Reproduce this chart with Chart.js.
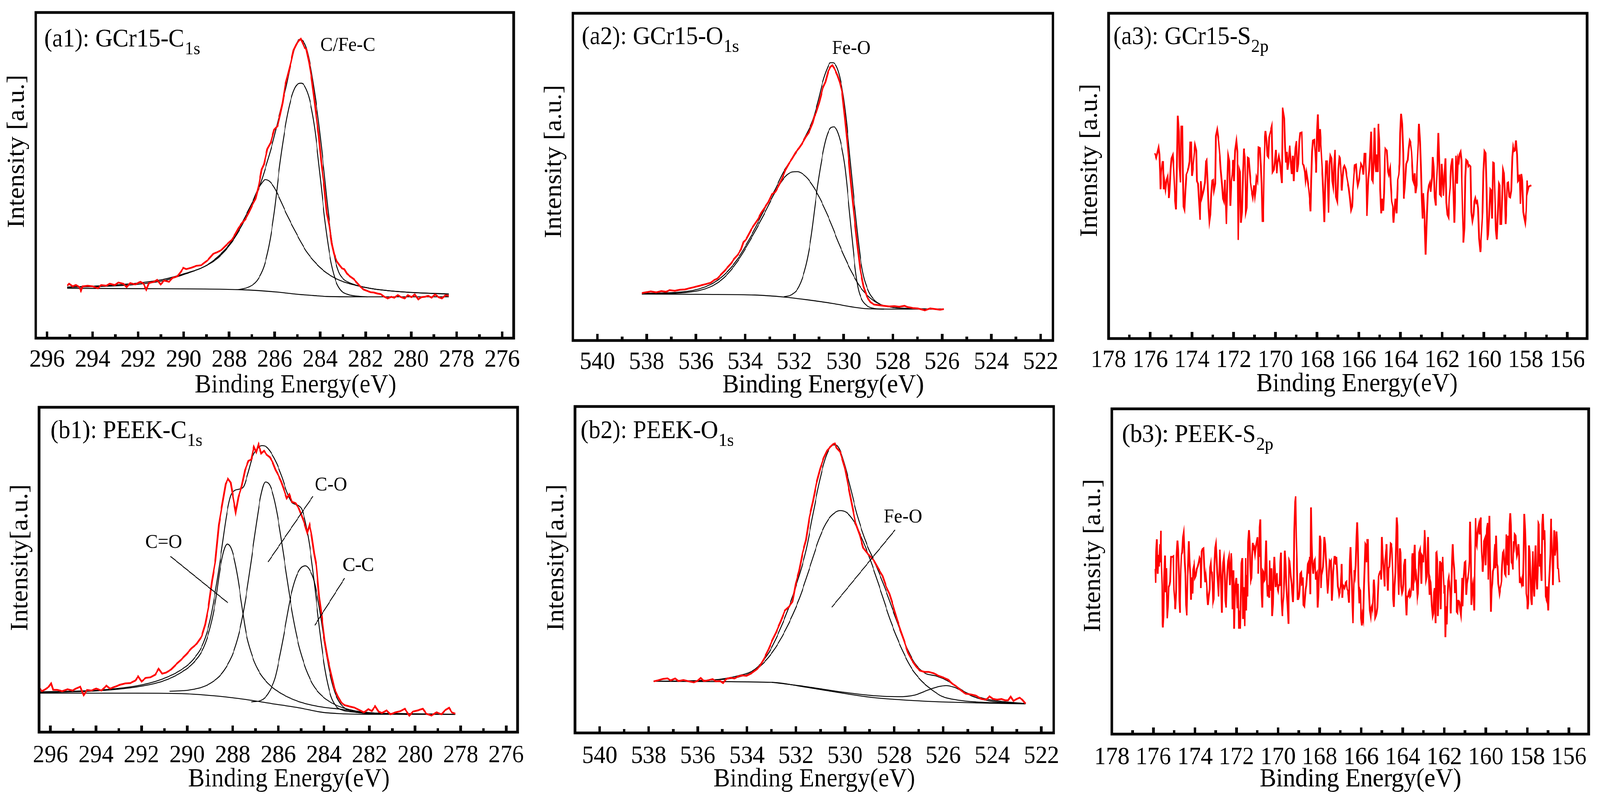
<!DOCTYPE html>
<html>
<head>
<meta charset="utf-8">
<script src="https://cdn.jsdelivr.net/npm/chart.js@4.4.0/dist/chart.umd.min.js"></script>
<style>
  html, body { margin: 0; padding: 0; background: #fff; overflow: hidden; }
  #stage { width: 4346px; height: 2059px; position: absolute; left: 0; top: 0; transform-origin: 0 0; background: #fff; }
  #stage canvas { position: absolute; }
</style>
</head>
<body>
<div id="stage">
<canvas id="a1" width="1450" height="1030" style="left:0;top:0"></canvas>
<canvas id="a2" width="1450" height="1030" style="left:1450px;top:0"></canvas>
<canvas id="a3" width="1446" height="1030" style="left:2900px;top:0"></canvas>
<canvas id="b1" width="1450" height="1029" style="left:0;top:1030px"></canvas>
<canvas id="b2" width="1450" height="1029" style="left:1450px;top:1030px"></canvas>
<canvas id="b3" width="1446" height="1029" style="left:2900px;top:1030px"></canvas>
</div>
<script>
// ---- axis ticks (binding energy, eV) ----
const C1S_TICKS = [276, 278, 280, 282, 284, 286, 288, 290, 292, 294, 296];
const C1S_MINOR = [277, 279, 281, 283, 285, 287, 289, 291, 293, 295];
const O1S_TICKS = [522, 524, 526, 528, 530, 532, 534, 536, 538, 540];
const O1S_MINOR = [523, 525, 527, 529, 531, 533, 535, 537, 539];
const S2P_TICKS = [156, 158, 160, 162, 164, 166, 168, 170, 172, 174, 176, 178];
const S2P_MINOR = [157, 159, 161, 163, 165, 167, 169, 171, 173, 175, 177];

// ---- (a1) GCr15 C1s : [energy, intensity a.u.] ----
const a1Measured = [[295.11,16.1],[295.03,16.7],[294.88,15.9],[294.73,16.3],[294.59,15.7],[294.51,14.5],[294.44,15.9],[294.21,16.1],[293.99,15.9],[293.77,15.3],[293.62,16.3],[293.39,16.1],[293.25,16.7],[293.02,16.3],[292.87,17.1],[292.65,16.7],[292.50,15.7],[292.35,16.9],[292.13,16.5],[291.90,17.3],[291.76,16.7],[291.64,14.9],[291.53,16.9],[291.31,17.3],[291.16,17.9],[291.01,16.5],[290.86,17.7],[290.64,17.3],[290.49,18.5],[290.27,19.0],[290.12,20.4],[290.01,21.6],[289.89,21.2],[289.67,21.6],[289.45,22.2],[289.22,22.4],[289.08,23.2],[288.93,24.0],[288.70,25.9],[288.55,26.3],[288.33,27.1],[288.11,28.7],[287.88,30.2],[287.74,31.8],[287.59,33.8],[287.44,35.3],[287.29,36.5],[287.14,38.5],[286.99,40.8],[286.84,42.8],[286.69,47.1],[286.57,51.8],[286.47,53.4],[286.32,58.1],[286.17,60.1],[286.02,64.0],[285.87,65.2],[285.77,68.3],[285.65,72.3],[285.53,77.8],[285.43,80.5],[285.28,84.8],[285.17,88.4],[285.05,90.2],[284.94,91.3],[284.85,91.9],[284.76,90.5],[284.68,89.2],[284.61,88.8],[284.49,84.8],[284.38,80.1],[284.28,74.6],[284.16,67.6],[284.06,62.1],[283.94,53.4],[283.83,47.1],[283.71,38.5],[283.60,34.6],[283.49,29.1],[283.39,25.9],[283.27,23.6],[283.15,22.4],[283.04,21.4],[282.94,21.2],[282.82,19.8],[282.67,18.9],[282.52,18.1],[282.37,16.9],[282.22,15.7],[282.08,14.9],[281.93,14.5],[281.78,14.1],[281.63,14.0],[281.48,13.7],[281.33,13.5],[281.18,12.7],[281.03,12.2],[280.88,12.7],[280.74,12.4],[280.59,13.2],[280.44,12.6],[280.29,12.2],[280.14,13.2],[279.99,12.6],[279.84,13.4],[279.69,11.9],[279.54,12.6],[279.40,12.7],[279.25,13.0],[279.10,12.4],[278.95,13.4],[278.80,12.6],[278.65,12.2],[278.50,13.2],[278.35,13.0]];
const a1Envelope = [[295.11,15.7],[293.54,16.1],[292.05,16.9],[290.86,18.1],[289.97,19.8],[289.08,22.0],[288.48,25.1],[287.88,29.8],[287.44,35.3],[286.99,41.6],[286.69,46.0],[286.39,52.6],[286.10,59.7],[285.80,68.3],[285.50,77.0],[285.28,84.4],[285.13,88.8],[284.98,91.3],[284.91,91.7],[284.76,91.3],[284.61,89.2],[284.46,84.8],[284.31,78.6],[284.09,67.6],[283.86,53.4],[283.64,38.5],[283.42,26.7],[283.19,20.4],[282.97,18.1],[282.67,16.9],[282.22,15.9],[281.63,15.1],[280.14,14.1],[278.35,13.5]];
const a1PeakBroad = [[295.11,15.6],[293.54,15.9],[292.05,16.5],[290.86,17.7],[289.97,19.6],[289.08,22.0],[288.48,24.7],[287.88,29.5],[287.44,34.6],[287.06,40.1],[286.77,45.2],[286.54,47.8],[286.42,48.7],[286.25,48.3],[286.02,46.3],[285.80,43.2],[285.50,38.5],[285.05,32.2],[284.61,26.7],[284.16,22.8],[283.71,20.0],[283.12,17.7],[282.37,16.1],[281.63,15.1],[280.14,14.1],[278.35,13.6]];
const a1PeakFeC = [[287.59,14.9],[287.14,15.7],[286.77,17.7],[286.47,22.0],[286.25,28.3],[286.02,38.5],[285.80,51.8],[285.58,62.8],[285.35,71.5],[285.13,76.6],[284.94,78.2],[284.83,78.3],[284.68,77.4],[284.46,73.1],[284.24,64.4],[284.01,50.3],[283.79,36.1],[283.57,25.1],[283.34,18.1],[283.12,14.9],[282.82,13.5],[282.37,12.9],[281.93,12.7]];
const a1Background = [[295.11,15.3],[292.05,15.2],[289.08,15.1],[287.59,14.9],[286.69,14.6],[285.80,14.1],[285.05,13.5],[284.31,13.1],[283.71,12.8],[282.37,12.7],[278.35,12.7]];

// ---- (a2) GCr15 O1s ----
const a2Measured = [[538.20,14.5],[538.04,14.7],[537.83,15.0],[537.62,14.7],[537.41,15.1],[537.21,14.9],[537.07,15.4],[536.86,15.2],[536.65,15.5],[536.45,15.6],[536.24,16.0],[536.03,16.4],[535.82,16.8],[535.62,17.2],[535.41,17.6],[535.27,18.4],[535.13,18.9],[535.00,20.0],[534.86,21.1],[534.72,22.3],[534.58,23.5],[534.44,25.0],[534.30,26.2],[534.17,27.8],[534.07,30.1],[533.96,30.9],[533.85,32.5],[533.75,34.0],[533.61,35.6],[533.47,37.2],[533.34,39.1],[533.20,40.7],[533.06,42.3],[532.92,44.6],[532.78,45.4],[532.64,47.3],[532.51,49.3],[532.37,52.0],[532.23,54.0],[532.09,55.6],[531.95,57.5],[531.82,58.7],[531.68,60.3],[531.54,62.2],[531.40,63.8],[531.26,66.5],[531.19,68.5],[531.12,69.6],[530.99,72.8],[530.85,77.1],[530.74,79.0],[530.63,82.2],[530.54,83.6],[530.46,84.1],[530.36,82.9],[530.25,81.0],[530.16,79.0],[530.06,75.9],[529.95,68.1],[529.85,60.3],[529.74,50.9],[529.63,42.3],[529.53,35.2],[529.44,29.0],[529.33,21.9],[529.19,16.4],[529.05,13.3],[528.91,11.7],[528.77,11.0],[528.57,10.8],[528.36,10.6],[528.15,10.4],[527.94,10.5],[527.74,10.3],[527.53,10.6],[527.39,10.2],[527.18,9.9],[526.98,9.8],[526.70,9.2],[526.49,9.8],[526.29,9.6],[526.08,9.4],[525.94,9.6]];
const a2Envelope = [[538.20,14.4],[536.38,15.0],[535.41,17.1],[534.86,20.0],[534.30,25.0],[533.75,32.1],[533.20,40.3],[532.78,46.2],[532.44,51.6],[532.09,55.6],[531.82,58.7],[531.54,62.6],[531.26,67.3],[531.05,72.8],[530.85,79.0],[530.68,82.9],[530.54,84.9],[530.43,84.9],[530.29,83.7],[530.16,80.6],[530.02,75.1],[529.88,66.5],[529.74,55.6],[529.60,44.6],[529.46,34.4],[529.33,25.8],[529.19,19.6],[528.98,14.9],[528.77,12.5],[528.50,11.0],[528.08,10.2],[527.39,9.8],[525.94,9.6]];
const a2PeakBroad = [[538.20,14.2],[536.38,14.7],[535.41,16.4],[534.86,19.2],[534.30,24.3],[533.75,31.3],[533.20,39.1],[532.78,45.4],[532.37,50.1],[532.09,51.5],[531.88,51.6],[531.68,51.0],[531.40,48.9],[530.99,43.8],[530.57,36.8],[530.16,29.0],[529.74,21.9],[529.33,16.4],[528.91,12.9],[528.50,11.0],[528.08,10.2],[527.39,9.8],[525.94,9.6]];
const a2PeakFeO = [[532.44,13.3],[532.09,14.1],[531.82,16.4],[531.54,22.7],[531.33,31.3],[531.12,43.8],[530.92,54.0],[530.71,61.8],[530.54,64.9],[530.40,65.3],[530.27,64.2],[530.09,59.5],[529.95,53.2],[529.81,43.0],[529.67,32.1],[529.53,21.9],[529.40,15.6],[529.26,12.5],[529.05,10.6],[528.77,9.8],[528.36,9.6]];
const a2Background = [[538.20,14.2],[535.69,14.1],[533.61,13.9],[532.44,13.3],[531.54,12.5],[530.43,11.3],[529.60,10.2],[529.05,9.7],[528.08,9.6],[525.94,9.6]];

// ---- (a3) GCr15 S2p ----
const a3Measured = [[175.78,57.0],[175.71,55.6],[175.66,57.0],[175.60,58.7],[175.56,56.6],[175.53,51.2],[175.51,45.9],[175.47,51.2],[175.42,54.3],[175.38,54.3],[175.35,45.9],[175.32,48.4],[175.27,45.9],[175.22,48.8],[175.16,50.0],[175.13,45.9],[175.10,43.2],[175.07,45.5],[175.02,52.1],[174.98,55.4],[174.92,56.4],[174.88,52.9],[174.85,48.8],[174.81,43.0],[174.76,39.7],[174.72,52.9],[174.68,68.5],[174.63,63.6],[174.60,52.9],[174.55,48.0],[174.52,65.2],[174.46,65.2],[174.43,50.4],[174.40,40.6],[174.36,39.7],[174.32,45.1],[174.27,50.4],[174.22,51.2],[174.16,52.5],[174.11,54.5],[174.08,60.3],[174.04,60.3],[174.00,50.0],[173.96,52.1],[173.91,55.4],[173.85,59.5],[173.79,57.8],[173.76,48.4],[173.71,47.6],[173.67,43.0],[173.61,36.5],[173.57,48.4],[173.52,43.4],[173.47,44.7],[173.43,45.9],[173.38,48.0],[173.33,54.5],[173.29,54.9],[173.24,47.6],[173.20,40.2],[173.16,36.1],[173.12,38.1],[173.08,44.3],[173.03,48.6],[172.98,48.8],[172.94,45.5],[172.88,47.6],[172.85,62.3],[172.79,64.2],[172.72,60.7],[172.66,56.2],[172.62,52.1],[172.56,47.6],[172.51,43.0],[172.47,42.2],[172.42,48.8],[172.39,43.0],[172.35,35.2],[172.30,48.0],[172.26,56.2],[172.21,54.5],[172.16,40.8],[172.12,47.6],[172.07,50.4],[172.02,54.9],[171.98,48.4],[171.93,57.8],[171.87,60.7],[171.82,57.0],[171.78,30.3],[171.72,51.9],[171.69,51.2],[171.65,35.6],[171.60,38.9],[171.55,51.2],[171.51,58.4],[171.46,55.8],[171.41,38.9],[171.37,40.2],[171.32,55.6],[171.28,55.4],[171.23,51.2],[171.19,48.0],[171.14,45.5],[171.08,43.4],[171.02,47.1],[170.98,43.9],[170.95,45.5],[170.91,49.6],[170.85,48.4],[170.80,58.8],[170.74,58.6],[170.70,53.7],[170.66,47.6],[170.62,36.1],[170.58,36.1],[170.54,52.9],[170.50,61.5],[170.47,63.8],[170.42,60.7],[170.38,56.2],[170.34,55.8],[170.30,61.9],[170.24,63.4],[170.17,65.2],[170.13,51.2],[170.07,51.9],[170.03,54.1],[169.98,58.0],[169.93,50.8],[169.89,54.1],[169.83,56.0],[169.78,54.1],[169.74,51.2],[169.69,47.8],[169.65,71.0],[169.57,67.7],[169.53,58.8],[169.49,54.1],[169.45,57.4],[169.42,51.9],[169.37,54.5],[169.31,59.3],[169.26,54.7],[169.21,50.6],[169.16,56.2],[169.12,48.4],[169.08,54.5],[169.04,58.6],[168.99,60.7],[168.95,51.2],[168.90,53.7],[168.85,60.7],[168.81,63.2],[168.73,63.4],[168.69,53.7],[168.64,53.3],[168.58,51.2],[168.55,48.8],[168.51,51.0],[168.46,48.8],[168.39,45.5],[168.34,41.8],[168.31,39.1],[168.28,48.4],[168.24,57.4],[168.20,60.9],[168.14,61.1],[168.09,57.4],[168.04,51.0],[168.00,63.2],[167.96,68.9],[167.91,57.4],[167.86,64.4],[167.82,59.9],[167.77,54.1],[167.73,49.6],[167.70,44.9],[167.65,35.8],[167.61,47.1],[167.57,54.5],[167.53,54.5],[167.50,49.6],[167.45,38.7],[167.40,53.3],[167.36,56.2],[167.31,55.4],[167.27,48.4],[167.23,46.7],[167.19,52.9],[167.14,58.0],[167.09,43.6],[167.03,42.2],[166.98,52.1],[166.93,55.8],[166.89,55.4],[166.84,49.6],[166.81,45.5],[166.77,49.6],[166.73,52.5],[166.69,53.1],[166.63,52.1],[166.57,49.6],[166.48,46.3],[166.42,43.0],[166.37,39.5],[166.32,40.6],[166.28,45.5],[166.23,50.4],[166.19,53.3],[166.13,53.5],[166.08,48.8],[166.05,47.1],[165.99,48.8],[165.93,52.1],[165.89,53.7],[165.82,52.7],[165.78,50.4],[165.73,56.8],[165.68,56.8],[165.64,49.6],[165.61,37.7],[165.54,49.0],[165.50,51.7],[165.45,57.8],[165.41,63.6],[165.37,48.8],[165.32,48.2],[165.28,54.5],[165.24,64.8],[165.20,53.7],[165.17,51.2],[165.14,56.6],[165.09,51.2],[165.06,66.0],[165.01,61.1],[164.97,46.3],[164.92,38.5],[164.87,43.0],[164.83,39.3],[164.79,44.7],[164.75,55.4],[164.73,58.4],[164.65,57.8],[164.59,51.2],[164.56,50.4],[164.50,52.3],[164.47,47.6],[164.42,42.2],[164.37,40.6],[164.33,35.6],[164.28,40.2],[164.24,43.0],[164.19,38.5],[164.13,48.8],[164.08,50.4],[164.04,53.7],[164.01,63.2],[163.97,69.1],[163.92,66.0],[163.87,57.0],[163.84,43.0],[163.79,46.3],[163.75,50.4],[163.72,53.7],[163.65,54.9],[163.61,58.2],[163.56,60.9],[163.52,60.3],[163.47,57.4],[163.43,52.9],[163.40,48.8],[163.36,48.0],[163.32,50.8],[163.28,44.7],[163.23,47.1],[163.20,52.9],[163.15,59.9],[163.11,66.0],[163.06,60.7],[163.02,52.9],[162.98,43.0],[162.94,36.9],[162.90,44.7],[162.85,38.9],[162.79,25.8],[162.73,38.1],[162.69,44.7],[162.64,47.1],[162.59,48.0],[162.55,45.1],[162.48,49.6],[162.45,55.8],[162.41,52.9],[162.36,43.4],[162.31,40.9],[162.27,47.9],[162.22,54.5],[162.18,63.2],[162.14,54.9],[162.11,44.3],[162.06,43.9],[162.03,53.7],[161.98,48.8],[161.94,43.9],[161.89,49.6],[161.84,55.4],[161.80,41.8],[161.75,38.1],[161.70,37.3],[161.66,43.4],[161.62,46.3],[161.57,52.9],[161.51,55.4],[161.46,45.1],[161.42,35.6],[161.38,44.7],[161.34,56.2],[161.28,47.6],[161.24,55.4],[161.20,54.5],[161.17,56.6],[161.12,57.4],[161.08,54.9],[161.02,38.1],[160.98,29.5],[160.93,34.0],[160.89,49.6],[160.85,54.9],[160.79,54.5],[160.75,52.9],[160.69,53.3],[160.64,52.9],[160.60,38.9],[160.55,36.2],[160.50,38.1],[160.46,42.2],[160.41,43.4],[160.36,41.8],[160.32,42.2],[160.28,40.2],[160.23,30.7],[160.17,26.6],[160.11,33.2],[160.06,38.9],[160.02,51.2],[159.97,57.6],[159.92,57.0],[159.88,47.1],[159.83,30.3],[159.79,31.9],[159.74,38.1],[159.69,45.9],[159.65,45.5],[159.61,36.9],[159.56,54.1],[159.51,53.9],[159.47,43.4],[159.42,33.2],[159.38,30.5],[159.33,38.5],[159.28,47.6],[159.25,47.1],[159.22,35.2],[159.16,35.2],[159.12,43.0],[159.08,51.9],[159.04,50.8],[159.00,45.5],[158.96,35.2],[158.92,40.2],[158.88,47.8],[158.83,48.0],[158.78,43.6],[158.74,43.4],[158.69,45.5],[158.64,55.8],[158.60,59.0],[158.55,57.6],[158.51,57.8],[158.46,60.9],[158.41,56.6],[158.37,48.4],[158.33,48.8],[158.29,50.4],[158.25,41.4],[158.20,50.6],[158.16,48.6],[158.11,38.9],[158.07,37.3],[158.02,35.6],[157.97,39.3],[157.93,48.6],[157.90,45.3],[157.85,46.7],[157.80,46.9],[157.73,47.1]];

// ---- (b1) PEEK C1s ----
const b1Measured = [[296.48,13.5],[296.37,12.6],[296.22,13.2],[296.07,14.0],[295.97,15.0],[295.88,13.0],[295.70,13.0],[295.48,12.6],[295.25,13.2],[295.03,12.8],[294.88,13.4],[294.69,14.0],[294.54,11.4],[294.39,13.0],[294.21,12.8],[293.99,13.4],[293.76,12.8],[293.54,14.3],[293.39,13.4],[293.16,14.0],[292.94,14.6],[292.72,15.0],[292.49,15.1],[292.27,15.9],[292.15,17.2],[292.00,15.6],[291.82,16.7],[291.60,16.9],[291.40,17.7],[291.25,19.5],[291.10,18.0],[290.93,18.3],[290.70,19.3],[290.48,20.9],[290.25,22.4],[290.03,24.0],[289.81,25.8],[289.58,27.2],[289.36,29.5],[289.21,33.1],[289.06,38.6],[288.91,46.5],[288.76,52.8],[288.61,63.8],[288.46,70.1],[288.31,76.4],[288.21,78.0],[288.09,76.8],[287.97,71.7],[287.87,67.7],[287.75,72.4],[287.61,75.6],[287.46,80.7],[287.31,83.5],[287.19,83.9],[287.07,87.8],[286.97,86.2],[286.87,88.6],[286.75,85.8],[286.63,86.6],[286.51,85.4],[286.37,84.6],[286.25,83.1],[286.12,80.7],[286.00,79.1],[285.88,77.2],[285.76,74.8],[285.63,72.0],[285.52,73.2],[285.40,70.9],[285.25,70.5],[285.10,68.9],[284.99,66.9],[284.87,64.6],[284.73,61.4],[284.63,63.8],[284.54,60.6],[284.43,55.1],[284.33,51.2],[284.21,41.7],[284.09,35.4],[283.97,28.3],[283.84,22.8],[283.69,18.1],[283.54,13.4],[283.39,11.0],[283.24,9.1],[283.09,8.3],[282.87,7.9],[282.64,7.5],[282.42,6.7],[282.24,6.1],[282.05,7.1],[281.90,6.5],[281.75,8.0],[281.60,6.3],[281.45,5.9],[281.25,6.7],[281.08,5.5],[280.85,6.1],[280.63,6.5],[280.45,7.2],[280.25,5.1],[280.10,6.3],[279.88,6.7],[279.66,7.2],[279.51,5.7],[279.28,5.1],[279.06,6.1],[278.84,5.5],[278.69,6.7],[278.51,7.5],[278.39,6.1],[278.24,5.7]];
const b1Envelope = [[296.48,12.4],[293.76,13.0],[291.97,14.6],[291.07,16.4],[290.33,18.9],[289.73,22.4],[289.28,27.6],[288.99,34.6],[288.69,46.5],[288.46,57.5],[288.27,66.9],[288.09,72.8],[287.91,74.4],[287.72,74.8],[287.52,75.6],[287.34,79.5],[287.12,85.0],[286.90,87.4],[286.72,88.2],[286.52,87.8],[286.30,85.8],[286.07,82.7],[285.85,78.7],[285.63,74.0],[285.43,70.9],[285.25,70.1],[285.10,69.7],[284.96,68.5],[284.81,64.6],[284.63,57.5],[284.43,46.5],[284.24,34.6],[284.06,24.4],[283.88,16.5],[283.69,11.0],[283.46,7.9],[283.16,6.7],[282.57,6.1],[281.82,5.7],[278.24,5.5]];
const b1PeakCdO = [[296.48,12.2],[293.76,12.8],[291.97,14.2],[291.07,15.7],[290.33,18.1],[289.73,21.3],[289.28,26.0],[288.99,32.3],[288.76,40.2],[288.57,49.6],[288.39,55.9],[288.24,57.9],[288.09,56.9],[287.94,53.5],[287.79,48.0],[287.61,39.4],[287.42,30.7],[287.19,24.4],[286.90,19.3],[286.45,15.0],[285.85,11.8],[285.10,9.4],[284.06,7.7],[283.31,7.1],[282.57,6.3],[281.82,5.9],[280.33,5.7],[278.24,5.5]];
const b1PeakCO = [[290.78,12.6],[289.88,13.0],[288.99,15.0],[288.39,18.9],[287.94,25.2],[287.64,33.1],[287.42,41.7],[287.19,52.8],[286.97,63.8],[286.78,72.4],[286.57,77.0],[286.37,76.0],[286.18,71.7],[285.97,63.8],[285.70,51.2],[285.43,38.6],[285.18,29.1],[284.88,21.3],[284.51,15.0],[284.06,11.0],[283.46,8.3],[282.72,6.7],[281.82,5.9],[280.33,5.5]];
const b1PeakCC = [[287.19,9.3],[286.75,9.8],[286.45,11.8],[286.15,16.5],[285.93,23.6],[285.70,32.3],[285.48,40.9],[285.25,47.2],[285.03,50.4],[284.81,51.2],[284.63,50.0],[284.43,46.5],[284.21,38.6],[283.99,28.3],[283.76,18.9],[283.54,12.6],[283.31,9.1],[283.02,7.1],[282.57,6.1],[281.82,5.7],[280.33,5.5]];
const b1Background = [[296.48,12.0],[292.27,12.0],[290.03,11.8],[288.54,11.0],[287.49,10.1],[286.30,8.8],[285.10,7.5],[284.06,6.1],[283.31,5.7],[281.82,5.5],[278.24,5.5]];

// ---- (b2) PEEK O1s ----
const b2Measured = [[537.80,15.8],[537.62,16.1],[537.44,16.5],[537.24,16.7],[537.10,16.1],[536.92,16.7],[536.79,15.9],[536.58,16.2],[536.37,15.8],[536.16,15.5],[536.02,15.9],[535.88,16.9],[535.75,15.9],[535.58,16.1],[535.40,16.5],[535.26,15.8],[535.08,15.9],[534.97,15.3],[534.85,16.5],[534.67,16.9],[534.50,16.7],[534.36,17.3],[534.19,17.6],[534.01,17.5],[533.81,18.3],[533.60,19.5],[533.46,20.6],[533.28,23.0],[533.11,25.7],[532.98,28.1],[532.81,30.8],[532.63,34.0],[532.45,37.5],[532.28,38.7],[532.14,40.2],[532.01,45.7],[531.87,49.6],[531.73,55.1],[531.59,59.1],[531.45,66.1],[531.31,70.8],[531.17,76.3],[531.01,81.0],[530.87,84.2],[530.73,86.5],[530.59,87.7],[530.48,88.5],[530.41,88.7],[530.34,87.3],[530.20,86.1],[530.09,83.4],[530.00,81.0],[529.86,75.5],[529.72,70.0],[529.58,64.5],[529.40,60.6],[529.26,56.7],[529.10,55.1],[528.96,54.0],[528.82,52.8],[528.65,50.4],[528.47,48.1],[528.33,44.9],[528.19,42.6],[528.06,39.4],[527.88,34.7],[527.71,30.8],[527.57,27.7],[527.43,24.5],[527.27,22.2],[527.09,20.2],[526.95,19.1],[526.77,18.7],[526.60,18.7],[526.39,18.3],[526.19,17.5],[525.98,16.9],[525.80,16.3],[525.63,15.1],[525.42,14.0],[525.24,12.8],[525.08,12.0],[524.87,11.8],[524.66,11.4],[524.45,10.4],[524.25,10.2],[524.11,11.2],[523.97,10.4],[523.80,10.2],[523.62,10.4],[523.48,10.0],[523.35,10.0],[523.25,11.1],[523.14,9.8],[523.00,10.4],[522.89,10.8],[522.78,10.2],[522.65,9.0]];
const b2Envelope = [[537.80,15.8],[535.75,16.1],[535.05,16.5],[534.36,17.5],[533.67,19.5],[533.11,24.5],[532.70,30.8],[532.28,38.7],[531.87,48.1],[531.59,55.9],[531.31,66.9],[531.04,77.1],[530.83,83.4],[530.65,86.9],[530.48,88.2],[530.37,88.2],[530.20,86.5],[530.00,81.8],[529.79,75.5],[529.51,66.9],[529.10,57.5],[528.82,52.8],[528.40,44.9],[527.99,36.3],[527.57,27.7],[527.16,21.4],[526.74,18.3],[526.32,17.5],[525.91,16.3],[525.49,14.4],[525.08,12.4],[524.66,11.2],[523.97,10.0],[522.65,9.0]];
const b2PeakFeO = [[537.80,15.8],[535.75,16.1],[534.36,17.1],[533.67,19.1],[532.98,24.5],[532.42,31.6],[531.87,41.0],[531.45,50.4],[531.04,59.8],[530.69,65.3],[530.41,67.5],[530.20,68.1],[529.93,67.5],[529.65,64.9],[529.37,60.6],[528.96,52.8],[528.54,43.4],[528.13,34.0],[527.71,26.1],[527.29,19.8],[526.88,15.9],[526.46,13.2],[526.05,11.2],[525.35,10.0],[524.66,9.5],[522.65,9.0]];
const b2PeakLow = [[532.98,15.5],[531.59,14.2],[530.20,12.6],[528.82,11.4],[527.85,11.1],[527.16,11.6],[526.60,13.2],[526.19,14.2],[525.88,14.5],[525.56,14.0],[525.22,12.8],[524.80,11.2],[524.25,10.0],[523.55,9.3],[522.65,9.0]];
const b2Background = [[537.80,15.8],[532.98,15.5],[531.59,14.0],[530.20,12.3],[528.82,10.8],[527.43,10.0],[526.05,9.5],[524.66,9.2],[522.65,8.9]];

// ---- (b3) PEEK S2p ----
const b3Measured = [[175.91,50.8],[175.89,46.5],[175.86,56.2],[175.83,59.9],[175.79,49.3],[175.76,55.1],[175.73,51.5],[175.71,54.3],[175.68,58.4],[175.66,52.8],[175.64,62.5],[175.61,51.9],[175.58,45.8],[175.57,36.3],[175.54,32.8],[175.51,36.3],[175.48,48.2],[175.44,54.9],[175.41,43.6],[175.38,51.0],[175.35,41.0],[175.33,35.6],[175.29,39.3],[175.26,45.2],[175.22,45.8],[175.19,46.9],[175.15,54.5],[175.08,54.5],[175.04,54.7],[175.01,44.5],[174.97,41.0],[174.94,38.4],[174.90,43.9],[174.88,55.1],[174.84,59.5],[174.81,56.7],[174.77,48.9],[174.75,41.0],[174.72,37.3],[174.68,50.6],[174.65,55.1],[174.61,55.8],[174.57,60.6],[174.54,61.8],[174.49,52.8],[174.46,49.3],[174.43,39.7],[174.39,36.5],[174.35,48.4],[174.32,52.8],[174.29,59.3],[174.26,53.6],[174.22,48.9],[174.19,41.3],[174.16,48.2],[174.12,43.2],[174.09,50.6],[174.04,52.1],[174.00,48.0],[173.96,48.6],[173.91,50.8],[173.87,51.5],[173.82,52.8],[173.78,54.3],[173.74,53.8],[173.71,44.9],[173.67,56.2],[173.63,56.9],[173.59,57.1],[173.55,51.0],[173.51,46.7],[173.47,48.9],[173.44,46.7],[173.40,42.3],[173.37,39.7],[173.33,42.5],[173.29,44.5],[173.27,51.2],[173.24,52.3],[173.22,49.7],[173.19,49.7],[173.16,46.7],[173.13,40.4],[173.09,41.5],[173.06,51.5],[173.02,57.3],[172.99,58.4],[172.96,54.5],[172.93,49.7],[172.90,46.7],[172.86,42.3],[172.83,50.1],[172.80,56.7],[172.77,51.9],[172.73,44.1],[172.70,37.3],[172.67,48.9],[172.64,52.8],[172.61,54.1],[172.57,48.9],[172.54,41.0],[172.50,38.9],[172.46,46.7],[172.43,50.6],[172.40,53.2],[172.36,54.5],[172.32,45.8],[172.28,51.5],[172.25,55.6],[172.23,53.6],[172.20,38.4],[172.17,50.1],[172.14,50.1],[172.11,32.4],[172.08,41.9],[172.05,46.0],[172.01,48.0],[171.98,42.3],[171.96,38.7],[171.92,46.2],[171.89,32.4],[171.85,38.0],[171.82,32.4],[171.79,42.3],[171.76,52.5],[171.72,54.1],[171.69,35.4],[171.66,45.2],[171.63,40.2],[171.60,33.2],[171.56,54.1],[171.53,38.0],[171.50,48.9],[171.47,42.3],[171.44,59.0],[171.40,62.7],[171.37,59.3],[171.34,51.5],[171.31,47.1],[171.27,48.0],[171.24,54.9],[171.21,58.8],[171.18,57.1],[171.15,57.5],[171.11,55.4],[171.08,57.1],[171.05,58.4],[171.00,60.3],[170.98,60.3],[170.95,49.3],[170.93,57.1],[170.90,54.5],[170.88,63.6],[170.85,66.0],[170.82,51.0],[170.79,43.2],[170.76,38.9],[170.73,50.1],[170.70,49.7],[170.66,47.1],[170.63,47.5],[170.60,53.0],[170.57,59.5],[170.53,46.7],[170.50,42.3],[170.47,45.8],[170.43,41.9],[170.40,53.4],[170.37,45.8],[170.33,44.1],[170.31,51.0],[170.28,36.3],[170.24,40.2],[170.21,49.7],[170.18,54.5],[170.15,50.1],[170.12,45.2],[170.08,47.5],[170.05,49.5],[170.02,44.9],[169.99,44.1],[169.96,45.8],[169.92,45.8],[169.89,52.8],[169.86,55.8],[169.83,41.0],[169.79,36.3],[169.76,40.2],[169.73,42.3],[169.70,46.7],[169.67,56.4],[169.63,51.9],[169.60,45.8],[169.57,42.3],[169.54,39.3],[169.50,33.9],[169.47,53.6],[169.44,53.2],[169.41,51.0],[169.38,48.4],[169.34,46.2],[169.31,43.2],[169.28,40.6],[169.25,46.7],[169.22,62.7],[169.18,71.4],[169.15,73.1],[169.12,60.6],[169.09,53.6],[169.05,41.5],[169.02,41.5],[168.99,42.3],[168.96,44.5],[168.93,49.3],[168.89,49.7],[168.86,46.0],[168.83,46.2],[168.80,48.2],[168.77,39.7],[168.73,39.3],[168.70,41.9],[168.67,44.5],[168.64,45.8],[168.60,49.3],[168.57,52.3],[168.54,52.8],[168.51,49.3],[168.48,54.5],[168.44,43.0],[168.41,69.7],[168.38,58.8],[168.35,52.8],[168.31,49.3],[168.28,51.9],[168.25,53.4],[168.22,53.8],[168.19,47.5],[168.15,49.3],[168.12,49.7],[168.09,38.9],[168.06,42.3],[168.02,51.0],[167.99,61.0],[167.96,59.7],[167.93,44.9],[167.90,48.9],[167.86,50.1],[167.83,51.5],[167.80,55.4],[167.77,60.6],[167.73,58.4],[167.70,54.1],[167.67,51.0],[167.64,46.7],[167.61,43.2],[167.57,46.2],[167.54,50.1],[167.51,53.2],[167.48,52.8],[167.45,53.2],[167.41,41.0],[167.38,44.5],[167.35,50.1],[167.32,51.9],[167.29,54.5],[167.25,54.5],[167.22,52.1],[167.19,54.5],[167.16,51.0],[167.12,45.4],[167.09,44.5],[167.06,42.8],[167.03,43.6],[166.99,45.4],[166.96,49.3],[166.93,52.3],[166.90,41.9],[166.87,45.8],[166.83,45.4],[166.80,44.9],[166.77,45.6],[166.74,46.7],[166.71,46.9],[166.67,44.5],[166.64,44.1],[166.61,42.8],[166.58,40.4],[166.54,53.2],[166.51,57.5],[166.48,51.0],[166.45,47.1],[166.42,39.3],[166.39,34.1],[166.35,45.8],[166.32,50.4],[166.29,48.9],[166.26,51.9],[166.22,60.6],[166.19,65.1],[166.16,58.8],[166.13,46.7],[166.09,40.2],[166.06,44.5],[166.03,44.1],[166.00,35.8],[165.96,33.4],[165.93,36.5],[165.90,35.4],[165.87,44.1],[165.83,52.3],[165.80,58.4],[165.77,58.0],[165.74,52.8],[165.71,59.7],[165.67,59.7],[165.64,47.1],[165.61,42.3],[165.58,38.0],[165.54,36.3],[165.51,38.9],[165.48,39.5],[165.45,38.4],[165.42,42.8],[165.38,47.5],[165.35,44.5],[165.32,35.8],[165.29,36.3],[165.26,37.1],[165.22,38.9],[165.19,44.1],[165.16,48.4],[165.13,49.3],[165.09,49.9],[165.06,50.1],[165.03,47.5],[165.00,60.6],[164.97,55.4],[164.93,51.9],[164.90,48.9],[164.87,45.4],[164.84,53.6],[164.80,56.7],[164.77,58.4],[164.74,48.4],[164.71,44.1],[164.68,51.0],[164.64,51.5],[164.61,54.5],[164.58,58.6],[164.55,58.4],[164.52,57.1],[164.48,49.7],[164.45,41.5],[164.42,39.1],[164.39,45.4],[164.35,49.7],[164.32,58.0],[164.29,66.6],[164.26,64.0],[164.23,51.0],[164.19,42.8],[164.16,48.9],[164.13,57.1],[164.10,55.8],[164.07,45.4],[164.03,43.4],[164.00,44.1],[163.97,46.2],[163.94,51.9],[163.90,53.6],[163.87,53.6],[163.84,41.0],[163.81,36.5],[163.78,42.3],[163.74,42.3],[163.71,43.6],[163.68,44.1],[163.65,42.3],[163.61,42.8],[163.58,44.9],[163.55,52.8],[163.52,55.6],[163.49,44.1],[163.45,54.5],[163.42,58.2],[163.39,48.4],[163.36,49.3],[163.33,47.1],[163.29,41.9],[163.26,43.2],[163.23,49.3],[163.20,55.8],[163.16,56.7],[163.13,51.9],[163.10,46.2],[163.07,54.9],[163.04,54.5],[163.00,52.8],[162.97,58.0],[162.94,62.7],[162.91,58.4],[162.87,47.5],[162.84,48.4],[162.81,52.8],[162.78,60.6],[162.75,49.7],[162.71,42.8],[162.68,47.5],[162.65,46.7],[162.62,43.2],[162.59,39.3],[162.55,36.3],[162.52,37.1],[162.49,43.6],[162.46,44.9],[162.42,34.1],[162.39,55.8],[162.36,56.0],[162.33,53.6],[162.30,36.3],[162.26,44.5],[162.23,48.9],[162.20,53.2],[162.17,38.4],[162.13,52.8],[162.10,50.1],[162.07,54.5],[162.04,48.9],[162.00,43.2],[161.97,45.8],[161.94,29.8],[161.91,39.3],[161.88,33.7],[161.84,42.3],[161.81,47.1],[161.78,48.2],[161.75,46.7],[161.72,43.6],[161.68,37.1],[161.65,44.9],[161.62,53.2],[161.59,58.4],[161.56,53.6],[161.52,50.6],[161.49,43.6],[161.46,43.6],[161.43,47.5],[161.39,37.6],[161.36,37.3],[161.33,41.0],[161.30,41.0],[161.27,40.6],[161.23,38.0],[161.20,36.7],[161.17,41.0],[161.14,48.0],[161.11,39.3],[161.07,47.1],[161.04,49.7],[161.01,52.8],[160.98,53.0],[160.94,42.8],[160.91,46.2],[160.88,47.5],[160.85,48.4],[160.82,50.1],[160.78,54.1],[160.75,65.3],[160.72,57.5],[160.69,39.7],[160.65,44.9],[160.62,46.2],[160.59,43.2],[160.56,38.0],[160.53,50.1],[160.49,66.4],[160.46,58.8],[160.43,58.0],[160.40,61.4],[160.37,63.2],[160.33,64.5],[160.30,61.4],[160.27,64.5],[160.24,66.6],[160.20,56.2],[160.17,52.8],[160.14,49.9],[160.11,53.6],[160.08,59.3],[160.04,60.1],[160.01,51.9],[159.98,58.0],[159.95,63.2],[159.91,64.9],[159.88,47.5],[159.85,56.2],[159.82,67.1],[159.79,53.2],[159.75,37.6],[159.72,44.5],[159.69,46.2],[159.66,50.1],[159.62,51.0],[159.59,55.8],[159.56,58.4],[159.53,51.0],[159.50,61.0],[159.46,52.3],[159.43,51.5],[159.40,46.2],[159.37,44.9],[159.34,43.2],[159.30,44.9],[159.27,45.8],[159.24,47.1],[159.21,51.9],[159.17,55.8],[159.14,56.2],[159.11,53.6],[159.08,49.3],[159.05,48.9],[159.01,61.4],[158.98,54.9],[158.95,51.9],[158.92,61.0],[158.89,48.9],[158.85,64.5],[158.82,67.9],[158.79,64.0],[158.76,52.8],[158.72,52.3],[158.69,50.6],[158.66,59.3],[158.63,58.0],[158.60,61.4],[158.56,61.0],[158.53,57.1],[158.50,54.9],[158.47,55.8],[158.43,58.4],[158.40,54.5],[158.37,46.7],[158.34,46.7],[158.31,47.5],[158.27,46.2],[158.24,47.5],[158.21,45.4],[158.18,54.5],[158.15,67.7],[158.11,62.7],[158.08,56.2],[158.05,43.2],[158.02,41.9],[157.98,38.4],[157.95,40.2],[157.92,58.0],[157.89,56.2],[157.86,50.1],[157.82,41.5],[157.79,39.7],[157.76,50.1],[157.73,56.2],[157.70,45.8],[157.66,42.3],[157.63,52.8],[157.60,58.0],[157.57,48.4],[157.53,44.5],[157.50,51.0],[157.47,64.9],[157.44,64.5],[157.41,51.5],[157.37,55.4],[157.34,51.0],[157.31,47.1],[157.28,64.5],[157.25,67.7],[157.21,59.7],[157.18,62.7],[157.15,55.4],[157.12,42.3],[157.08,41.5],[157.05,45.4],[157.02,41.5],[156.99,38.0],[156.96,45.8],[156.92,51.0],[156.89,55.4],[156.86,66.2],[156.83,61.9],[156.79,51.0],[156.76,45.8],[156.73,56.7],[156.70,62.7],[156.67,54.9],[156.63,57.5],[156.60,62.3],[156.57,58.8],[156.54,51.0],[156.50,50.8],[156.47,47.5],[156.44,46.7]];

// ---- per-panel layout and decoration ----
const SERIF = '"Liberation Serif", "Times New Roman", serif';
const panels = [
  {
    id: 'a1', pad: { left: 97, top: 32, right: 55, bottom: 0 }, axisHeight: 164, tickPad: 10,
    xMin: 275.5, xMax: 296.5, majors: C1S_TICKS, minors: C1S_MINOR,
    measured: a1Measured, fits: [a1Envelope, a1PeakBroad, a1PeakFeC, a1Background],
    label: '(a1): GCr15-C', sub: '1s', labelDx: 23, labelDy: 87,
    yTitle: 'Intensity [a.u.]', yTitleStart: 282, xTitleDx: 57, xTitleDy: 139,
    notes: [{ text: 'C/Fe-C', x: 282.78, y: 89.9 }]
  },
  {
    id: 'a2', pad: { left: 106, top: 34, right: 40, bottom: 0 }, axisHeight: 158, tickPad: 10,
    xMin: 521.5, xMax: 541, majors: O1S_TICKS, minors: O1S_MINOR,
    measured: a2Measured, fits: [a2Envelope, a2PeakBroad, a2PeakFeO, a2Background],
    label: '(a2): GCr15-O', sub: '1s', labelDx: 24, labelDy: 79,
    yTitle: 'Intensity [a.u.]', yTitleStart: 262, xTitleDx: 28, xTitleDy: 133,
    notes: [{ text: 'Fe-O', x: 529.69, y: 89.2 }]
  },
  {
    id: 'a3', pad: { left: 111, top: 34, right: 35, bottom: 0 }, axisHeight: 163, tickPad: 10,
    xMin: 155.05, xMax: 178, majors: S2P_TICKS, minors: S2P_MINOR,
    measured: a3Measured, fits: [],
    label: '(a3): GCr15-S', sub: '2p', labelDx: 13, labelDy: 79,
    yTitle: 'Intensity [a.u.]', yTitleStart: 260, xTitleDx: 25, xTitleDy: 135,
    notes: []
  },
  {
    id: 'b1', pad: { left: 106, top: 13, right: 44, bottom: 0 }, axisHeight: 184, tickPad: 14,
    xMin: 275.5, xMax: 296.5, majors: C1S_TICKS, minors: C1S_MINOR,
    measured: b1Measured, fits: [b1Envelope, b1PeakCdO, b1PeakCO, b1PeakCC, b1Background],
    label: '(b1): PEEK-C', sub: '1s', labelDx: 31, labelDy: 79,
    yTitle: 'Intensity[a.u.]', yTitleStart: 259, xTitleDx: 29, xTitleDy: 139,
    notes: [
      { text: 'C=O', x: 291.03, y: 58.4, line: [290.73, 54.1, 288.21, 39.8] },
      { text: 'C-O', x: 283.69, y: 76.0, line: [284.48, 72.6, 286.45, 52.4] },
      { text: 'C-C', x: 282.49, y: 51.2, line: [283.09, 47.4, 284.40, 32.9] }
    ]
  },
  {
    id: 'b2', pad: { left: 112, top: 11, right: 38, bottom: 0 }, axisHeight: 182, tickPad: 14,
    xMin: 521.5, xMax: 541, majors: O1S_TICKS, minors: O1S_MINOR,
    measured: b2Measured, fits: [b2Envelope, b2PeakFeO, b2PeakLow, b2Background],
    label: '(b2): PEEK-O', sub: '1s', labelDx: 15, labelDy: 81,
    yTitle: 'Intensity[a.u.]', yTitleStart: 261, xTitleDx: 0, xTitleDy: 137,
    notes: [{ text: 'Fe-O', x: 527.64, y: 66.1, line: [527.96, 62.2, 530.54, 38.5] }]
  },
  {
    id: 'b3', pad: { left: 120, top: 17, right: 31, bottom: 0 }, axisHeight: 179, tickPad: 14,
    xMin: 155.05, xMax: 178, majors: S2P_TICKS, minors: S2P_MINOR,
    measured: b3Measured, fits: [],
    label: '(b3): PEEK-S', sub: '2p', labelDx: 28, labelDy: 85,
    yTitle: 'Intensity [a.u.]', yTitleStart: 261, xTitleDx: 28, xTitleDy: 134,
    notes: []
  }
];

// stretch the 4346x2059 stage over the whole viewport we are given
const stage = document.getElementById('stage');
const scaleX = window.innerWidth / 4346;
const scaleY = window.innerHeight / 2059;
stage.style.transform = `scale(${scaleX}, ${scaleY})`;
const renderRatio = (window.devicePixelRatio || 1) * Math.max(scaleX, scaleY);

const decorById = new Map(panels.map((p) => [p.id, p]));

// frame, inner ticks, panel label, axis titles and peak notes
const xpsDecor = {
  id: 'xpsDecor',
  afterDraw(chart) {
    const p = decorById.get(chart.canvas.id);
    if (!p) return;
    const { ctx, chartArea: a } = chart;
    const xs = chart.scales.x;
    const ys = chart.scales.y;
    ctx.save();
    ctx.fillStyle = '#000';
    ctx.strokeStyle = '#000';

    p.notes.forEach((n) => {
      if (n.line) {
        ctx.lineWidth = 2.2;
        ctx.beginPath();
        ctx.moveTo(xs.getPixelForValue(n.line[0]), ys.getPixelForValue(n.line[1]));
        ctx.lineTo(xs.getPixelForValue(n.line[2]), ys.getPixelForValue(n.line[3]));
        ctx.stroke();
      }
      ctx.font = `51px ${SERIF}`;
      ctx.textAlign = 'center';
      ctx.textBaseline = 'middle';
      ctx.fillText(n.text, xs.getPixelForValue(n.x), ys.getPixelForValue(n.y));
    });

    // tick marks point into the plot
    ctx.lineWidth = 7;
    ctx.lineCap = 'butt';
    xs.ticks.forEach((t) => {
      const px = xs.getPixelForValue(t.value);
      if (px < a.left + 6 || px > a.right - 6) return;
      const len = p.majors.includes(t.value) ? 17 : 10;
      ctx.beginPath();
      ctx.moveTo(px, a.bottom);
      ctx.lineTo(px, a.bottom - len);
      ctx.stroke();
    });

    ctx.lineWidth = 7;
    ctx.strokeRect(a.left, a.top, a.right - a.left, a.bottom - a.top);

    // panel label with subscript
    ctx.textAlign = 'left';
    ctx.textBaseline = 'alphabetic';
    ctx.font = `65px ${SERIF}`;
    const lx = a.left + p.labelDx;
    const ly = a.top + p.labelDy;
    ctx.fillText(p.label, lx, ly);
    const w = ctx.measureText(p.label).width;
    ctx.font = `47px ${SERIF}`;
    ctx.fillText(p.sub, lx + w + 1, ly + 20);

    // x title
    ctx.font = `67px ${SERIF}`;
    ctx.textAlign = 'center';
    ctx.fillText('Binding Energy(eV)', (a.left + a.right) / 2 + p.xTitleDx, a.bottom + p.xTitleDy);

    // y title
    ctx.translate(a.left - 50, a.bottom - p.yTitleStart);
    ctx.rotate(-Math.PI / 2);
    ctx.textAlign = 'left';
    ctx.textBaseline = 'middle';
    ctx.fillText(p.yTitle, 0, 0);
    ctx.restore();
  }
};

const toPoints = (pairs) => pairs.map(([x, y]) => ({ x, y }));

function drawPanel(p) {
  const tickValues = [...p.majors, ...p.minors].sort((m, n) => m - n);
  const datasets = [{
    data: toPoints(p.measured),
    borderColor: '#ff0000',
    borderWidth: 4.5,
    tension: 0
  }];
  p.fits.forEach((fit) => {
    datasets.push({
      data: toPoints(fit),
      borderColor: '#000000',
      borderWidth: 2.3,
      cubicInterpolationMode: 'monotone'
    });
  });

  return new Chart(document.getElementById(p.id), {
    type: 'line',
    data: { datasets },
    options: {
      responsive: false,
      animation: false,
      devicePixelRatio: renderRatio,
      events: [],
      layout: { padding: p.pad },
      elements: { point: { radius: 0 } },
      plugins: { legend: { display: false }, tooltip: { enabled: false } },
      scales: {
        x: {
          type: 'linear',
          reverse: true,
          min: p.xMin,
          max: p.xMax,
          grid: { display: false },
          border: { display: false },
          afterBuildTicks: (scale) => { scale.ticks = tickValues.map((v) => ({ value: v })); },
          afterFit: (scale) => { scale.height = p.axisHeight; },
          ticks: {
            autoSkip: false,
            maxRotation: 0,
            minRotation: 0,
            padding: p.tickPad,
            color: '#000',
            font: { family: SERIF, size: 64, lineHeight: 1.2 },
            callback: (v) => (p.majors.includes(v) ? String(v) : '')
          }
        },
        y: { display: false, min: 0, max: 100 }
      }
    },
    plugins: [xpsDecor]
  });
}

panels.forEach(drawPanel);
</script>
</body>
</html>
